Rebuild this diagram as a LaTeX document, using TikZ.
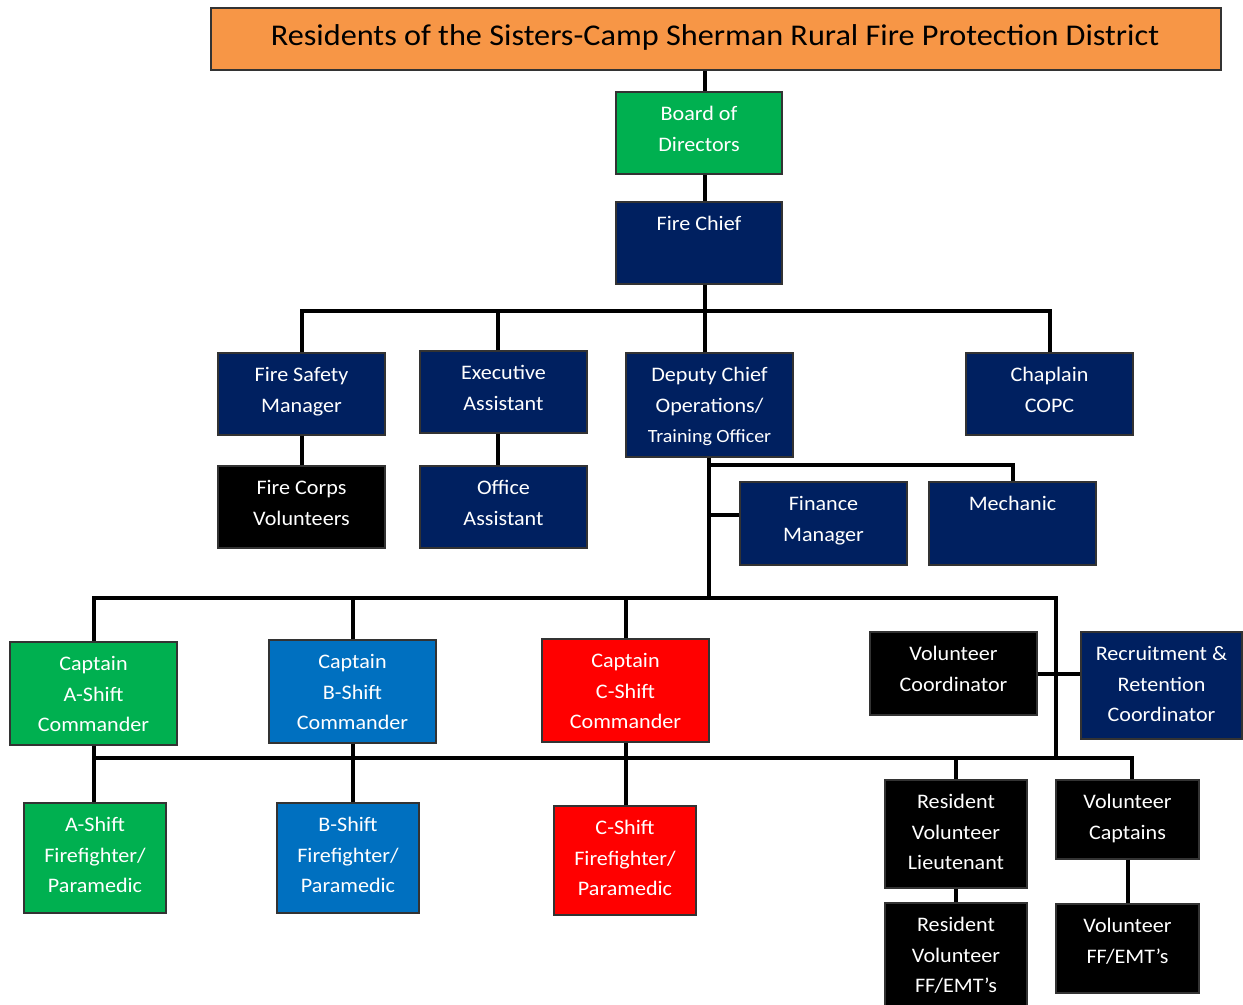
\documentclass[tikz,border=0pt]{standalone}
\usepackage{fontspec}
\setmainfont{Carlito}[FakeStretch=1.07]
\usetikzlibrary{fit}
\definecolor{orgorange}{HTML}{F79646}
\definecolor{orggreen}{HTML}{00B050}
\definecolor{orgnavy}{HTML}{002060}
\definecolor{orgblue}{HTML}{0070C0}
\definecolor{orgred}{HTML}{FF0000}
\tikzset{
  box/.style={draw=black!80, line width=0.8pt, inner sep=0pt, rectangle},
  lbl/.style={font=\fontsize{15.5}{23}\selectfont, text=white, align=center,
    anchor=north, inner sep=0pt, yshift=-10.9pt, execute at begin node=\strut},
  oneline/.style={yshift=5.25pt},
  conn/.style={line width=3pt, black}
}
\newcommand\orgbox[6][]{%
  \node[box, fill=#3, fit={#4 #5}] (#2) {};
  \node[lbl,#1] (#2-t) at (#2.north) {#6};}
\begin{document}
\begin{tikzpicture}[x=0.75pt, y=-0.75pt]
\useasboundingbox[fill=white] (0,0) rectangle (1243,1005);
% coordinates
\coordinate (x705) at (705,0);
\coordinate (x498) at (498,0);
\coordinate (j1) at (705,311);
\coordinate (j2) at (709,598);
\coordinate (j3) at (709,465);
\coordinate (j4) at (709,515);
\coordinate (j5) at (1056,758);
\coordinate (j6) at (1132,758);
% title
\node[box, fill=orgorange, fit={(211,8) (1221,70)}] (t) {};
\node[font=\fontsize{22.6}{26}\selectfont, anchor=base, inner sep=0pt] (t-t) at (715,46)
  {Residents of the Sisters-Camp Sherman Rural Fire Protection District};
% boxes
\orgbox{board}{orggreen}{(616,92)}{(782,174)}{Board of\\Directors}
\orgbox[oneline]{fc}{orgnavy}{(616,202)}{(782,284)}{Fire Chief}
\orgbox{fsm}{orgnavy}{(218,353)}{(385,435)}{Fire Safety\\Manager}
\orgbox{ea}{orgnavy}{(420,351)}{(587,433)}{Executive\\Assistant}
\orgbox{dc}{orgnavy}{(626,353)}{(793,457)}{Deputy Chief\\Operations/\\{\fontsize{14}{23}\selectfont Training Officer}}
\orgbox{ch}{orgnavy}{(966,353)}{(1133,435)}{Chaplain\\COPC}
\orgbox{fcv}{black}{(218,466)}{(385,548)}{Fire Corps\\Volunteers}
\orgbox{oa}{orgnavy}{(420,466)}{(587,548)}{Office\\Assistant}
\orgbox{fm}{orgnavy}{(740,482)}{(907,565)}{Finance\\Manager}
\orgbox[oneline]{mech}{orgnavy}{(929,482)}{(1096,565)}{Mechanic}
\orgbox{ca}{orggreen}{(10,642)}{(177,745)}{Captain\\A-Shift\\Commander}
\orgbox{cb}{orgblue}{(269,640)}{(436,743)}{Captain\\B-Shift\\Commander}
\orgbox{cc}{orgred}{(542,639)}{(709,742)}{Captain\\C-Shift\\Commander}
\orgbox{vc}{black}{(870,632)}{(1037,715)}{Volunteer\\Coordinator}
\orgbox{rr}{orgnavy}{(1081,632)}{(1242,739)}{Recruitment \&\\Retention\\Coordinator}
\orgbox{fa}{orggreen}{(24,803)}{(166,913)}{A-Shift\\Firefighter/\\Paramedic}
\orgbox{fb}{orgblue}{(277,803)}{(419,913)}{B-Shift\\Firefighter/\\Paramedic}
\orgbox{fcc}{orgred}{(554,806)}{(696,915)}{C-Shift\\Firefighter/\\Paramedic}
\orgbox{rvl}{black}{(885,780)}{(1027,888)}{Resident\\Volunteer\\Lieutenant}
\orgbox{vcap}{black}{(1056,780)}{(1199,859)}{Volunteer\\Captains}
\orgbox{rvf}{black}{(885,903)}{(1027,1010)}{Resident\\Volunteer\\FF/EMT’s}
\orgbox{vff}{black}{(1056,904)}{(1199,993)}{Volunteer\\FF/EMT’s}
% connectors
\draw[conn] (t.south -| x705) -- (board.north -| x705);
\draw[conn] (board.south -| x705) -- (fc.north -| x705);
\draw[conn] (fc.south -| j1) -- (j1);
\draw[conn] (fsm.north) |- (j1);
\draw[conn] (ea.north -| x498) |- (j1);
\draw[conn] (dc.north -| j1) -- (j1);
\draw[conn] (ch.north) |- (j1);
\draw[conn] (fsm) -- (fcv);
\draw[conn] (ea.south -| x498) -- (oa.north -| x498);
\draw[conn] (dc.south -| j2) -- (j2);
\draw[conn] (j3) -| (mech.north);
\draw[conn] (j4) -- (fm.west |- j4);
\draw[conn] (ca.north) |- (j2);
\draw[conn] (cb.north) |- (j2);
\draw[conn] (cc.north) |- (j2);
\draw[conn] (j2) -| (j5);
\draw[conn] (vc.east) -- (rr.west |- vc.east);
\draw[conn] (ca.south) |- (j6) -- (vcap.north -| j6);
\draw[conn] (ca.south) -- (ca.south |- fa.north);
\draw[conn] (cb.south) -- (cb.south |- fb.north);
\draw[conn] (cc.south) -- (cc.south |- fcc.north);
\draw[conn] (rvl.north) -- (rvl.north |- j6);
\draw[conn] (rvl) -- (rvf);
\draw[conn] (vcap) -- (vff);
\end{tikzpicture}
\end{document}
